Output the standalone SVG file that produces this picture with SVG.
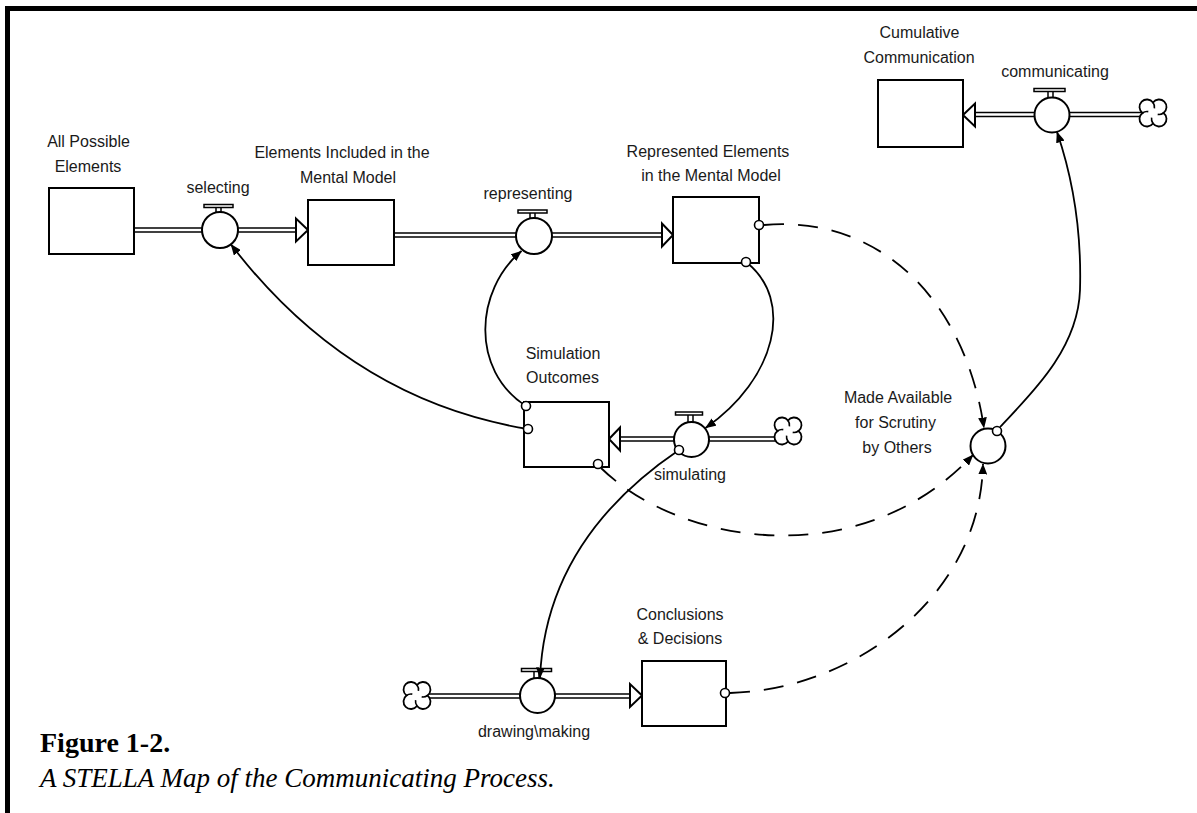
<svg xmlns="http://www.w3.org/2000/svg" width="1197" height="813" viewBox="0 0 1197 813">
<style>
.lbl{font-family:"Liberation Sans",Arial,sans-serif;font-size:16px;fill:#1a1a1a;text-anchor:middle}
.stock{fill:#fff;stroke:#000;stroke-width:2}
.valve{fill:#fff;stroke:#000;stroke-width:2}
.bar{fill:#fff;stroke:#000;stroke-width:1.5}
.stem{stroke:#000;stroke-width:1.5}
.po{stroke:#000;stroke-width:5.5;fill:none}
.pi{stroke:#fff;stroke-width:2.5;fill:none}
.head{fill:#fff;stroke:#000;stroke-width:2;stroke-linejoin:miter}
.link{fill:none;stroke:#000;stroke-width:1.8}
.dash{fill:none;stroke:#000;stroke-width:1.8;stroke-dasharray:20 14}
.anchor{fill:#fff;stroke:#000;stroke-width:1.6}
.cloud{fill:#fff;stroke:#000;stroke-width:1.8}
</style>
<defs>
<marker id="ah" viewBox="0 0 10 8" refX="9.5" refY="4" markerWidth="11" markerHeight="9" markerUnits="userSpaceOnUse" orient="auto">
<path d="M0,0 L10,4 L0,8 z" fill="#000"/>
</marker>
<g id="cloudShape">
<path class="cloud" d="M0,-10.5 A7.5,7.5 0 1 1 10.5,0 A7.5,7.5 0 1 1 0,10.5 A7.5,7.5 0 1 1 -10.5,0 A7.5,7.5 0 1 1 0,-10.5 Z"/>
<path fill="none" stroke="#000" stroke-width="1.6" d="M10.5,0 A7.5,7.5 0 0 1 4.7,1.4 M0,10.5 A7.5,7.5 0 0 1 -1.4,4.7 M-10.5,0 A7.5,7.5 0 0 1 -4.7,-1.4 M0,-10.5 A7.5,7.5 0 0 1 1.4,-4.7"/>
</g>
</defs>
<rect x="0" y="0" width="1197" height="813" fill="#fff"/>
<!-- frame -->
<g id="frame">
<rect x="5" y="6" width="1192" height="5" fill="#000"/>
<rect x="5" y="6" width="5" height="807" fill="#000"/>
</g>

<!-- flow pipes -->
<g id="flows">
<line class="po" x1="134" y1="230" x2="203" y2="230"/><line class="pi" x1="133" y1="230" x2="203" y2="230"/>
<line class="po" x1="237" y1="230" x2="297" y2="230"/><line class="pi" x1="237" y1="230" x2="298" y2="230"/>
<polygon class="head" points="308,230 296,218.5 296,241.5"/>

<line class="po" x1="394" y1="235" x2="517" y2="235"/><line class="pi" x1="393" y1="235" x2="517" y2="235"/>
<line class="po" x1="551" y1="235" x2="663" y2="235"/><line class="pi" x1="551" y1="235" x2="664" y2="235"/>
<polygon class="head" points="673,235 662,223.5 662,246.5"/>

<line class="po" x1="777" y1="439" x2="708" y2="439"/><line class="pi" x1="778" y1="439" x2="708" y2="439"/>
<line class="po" x1="675" y1="439" x2="619" y2="439"/><line class="pi" x1="675" y1="439" x2="618" y2="439"/>
<polygon class="head" points="609,439 620,427.5 620,450.5"/>

<line class="po" x1="1142" y1="114.5" x2="1069" y2="114.5"/><line class="pi" x1="1143" y1="114.5" x2="1069" y2="114.5"/>
<line class="po" x1="1035" y1="114.5" x2="974" y2="114.5"/><line class="pi" x1="1035" y1="114.5" x2="973" y2="114.5"/>
<polygon class="head" points="963,115 975,103.5 975,126.5"/>

<line class="po" x1="428" y1="696" x2="521" y2="696"/><line class="pi" x1="427" y1="696" x2="521" y2="696"/>
<line class="po" x1="554" y1="696" x2="631" y2="696"/><line class="pi" x1="554" y1="696" x2="632" y2="696"/>
<polygon class="head" points="642,695.5 630,684 630,707"/>
</g>

<!-- stocks -->
<g id="all-possible-elements">
<rect class="stock" x="49" y="188" width="85" height="66"/>
<text class="lbl" x="88.5" y="147">All Possible</text>
<text class="lbl" x="88" y="172">Elements</text>
</g>
<g id="elements-included">
<rect class="stock" x="308" y="200" width="86" height="65"/>
<text class="lbl" x="342" y="158">Elements Included in the</text>
<text class="lbl" x="348" y="183">Mental Model</text>
</g>
<g id="represented-elements">
<rect class="stock" x="673" y="197" width="86" height="66"/>
<text class="lbl" x="708" y="157">Represented Elements</text>
<text class="lbl" x="711" y="181">in the Mental Model</text>
</g>
<g id="simulation-outcomes">
<rect class="stock" x="524" y="402" width="85" height="65"/>
<text class="lbl" x="563" y="359">Simulation</text>
<text class="lbl" x="562.5" y="383">Outcomes</text>
</g>
<g id="cumulative-communication">
<rect class="stock" x="878" y="80" width="85" height="67"/>
<text class="lbl" x="919.5" y="38">Cumulative</text>
<text class="lbl" x="919" y="63">Communication</text>
</g>
<g id="conclusions-decisions">
<rect class="stock" x="642" y="661" width="84" height="65"/>
<text class="lbl" x="680" y="620">Conclusions</text>
<text class="lbl" x="680" y="644">&amp; Decisions</text>
</g>

<!-- clouds -->
<g id="cloud-simulating"><use href="#cloudShape" x="788" y="431"/></g>
<g id="cloud-communicating"><use href="#cloudShape" x="1153" y="113"/></g>
<g id="cloud-drawing"><use href="#cloudShape" x="417" y="695.5"/></g>

<!-- flow valves -->
<g id="selecting">
<rect class="bar" x="204" y="204.5" width="29" height="3"/>
<line class="stem" x1="216" y1="207.5" x2="216" y2="212"/><line class="stem" x1="221" y1="207.5" x2="221" y2="212"/>
<circle class="valve" cx="220" cy="230" r="18"/>
<text class="lbl" x="218" y="193">selecting</text>
</g>
<g id="representing">
<rect class="bar" x="518" y="210" width="29" height="3"/>
<line class="stem" x1="530" y1="213" x2="530" y2="218"/><line class="stem" x1="535" y1="213" x2="535" y2="218"/>
<circle class="valve" cx="534" cy="236" r="18"/>
<text class="lbl" x="528" y="199">representing</text>
</g>
<g id="simulating">
<rect class="bar" x="675.5" y="412" width="27" height="3"/>
<line class="stem" x1="688" y1="415" x2="688" y2="422"/><line class="stem" x1="693" y1="415" x2="693" y2="422"/>
<circle class="valve" cx="691.5" cy="439.5" r="17.5"/>
<text class="lbl" x="690" y="480">simulating</text>
</g>
<g id="communicating">
<rect class="bar" x="1034" y="88.5" width="31" height="3"/>
<line class="stem" x1="1048" y1="91.5" x2="1048" y2="97.5"/><line class="stem" x1="1053" y1="91.5" x2="1053" y2="97.5"/>
<circle class="valve" cx="1052" cy="115" r="17.5"/>
<text class="lbl" x="1055" y="77">communicating</text>
</g>
<g id="drawing-making">
<rect class="bar" x="521.5" y="668.5" width="30" height="3"/>
<line class="stem" x1="534" y1="671.5" x2="534" y2="678"/><line class="stem" x1="539" y1="671.5" x2="539" y2="678"/>
<circle class="valve" cx="537.5" cy="695.5" r="17.5"/>
<text class="lbl" x="534" y="737">drawing\making</text>
</g>

<!-- converter -->
<g id="made-available">
<circle class="valve" cx="988" cy="446" r="17.5"/>
<text class="lbl" x="898" y="403">Made Available</text>
<text class="lbl" x="895.5" y="428">for Scrutiny</text>
<text class="lbl" x="897" y="453">by Others</text>
</g>

<!-- information connectors -->
<g id="connectors">
<path class="link" marker-end="url(#ah)" d="M528,429 Q350,400 231,244.5"/>
<path class="link" marker-end="url(#ah)" d="M526,406 C470,370 475,290 521.5,251"/>
<path class="link" marker-end="url(#ah)" d="M746,262 C795,300 776,379 705.5,428"/>
<path class="link" marker-end="url(#ah)" d="M679,450 C620,490 545,560 540,678"/>
<path class="link" marker-end="url(#ah)" d="M1000,427 C1030,395 1078,350 1080,290 C1082,220 1070,170 1057,132"/>
<path class="dash" marker-end="url(#ah)" d="M764,225 C880,215 965,300 984,428"/>
<path class="dash" marker-end="url(#ah)" d="M601,468 C680,545 860,575 973,455"/>
<path class="dash" marker-end="url(#ah)" d="M730,693 C850,690 980,600 983,464"/>
</g>

<!-- connector anchors -->
<g id="link-anchors">
<circle class="anchor" cx="759" cy="225" r="4.5"/>
<circle class="anchor" cx="746" cy="262" r="4.5"/>
<circle class="anchor" cx="526" cy="406" r="4.5"/>
<circle class="anchor" cx="528" cy="429" r="4.5"/>
<circle class="anchor" cx="598" cy="464" r="4.5"/>
<circle class="anchor" cx="679" cy="450" r="4.5"/>
<circle class="anchor" cx="725" cy="693" r="4.5"/>
<circle class="anchor" cx="997" cy="431" r="4.5"/>
</g>

<!-- caption -->
<g id="caption">
<text x="40" y="752" font-family="'Liberation Serif','Times New Roman',serif" font-weight="bold" font-size="28" fill="#000">Figure 1-2.</text>
<text x="40" y="787" font-family="'Liberation Serif','Times New Roman',serif" font-style="italic" font-size="27" fill="#000">A STELLA Map of the Communicating Process.</text>
</g>
</svg>
